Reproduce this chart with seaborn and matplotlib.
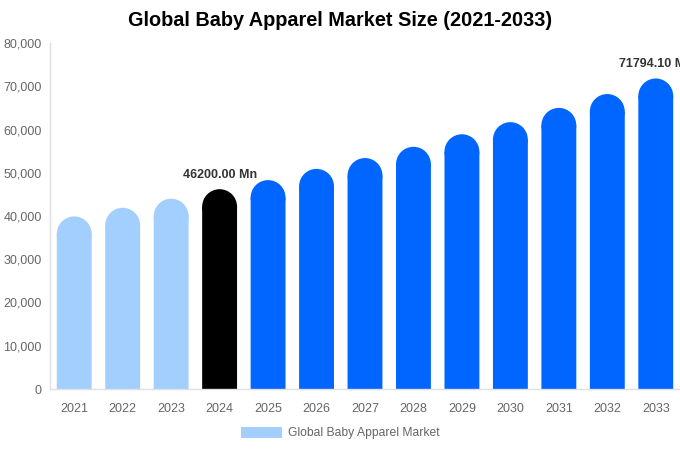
import pandas as pd
import numpy as np
import matplotlib
matplotlib.use("Agg")
import matplotlib.pyplot as plt
import seaborn as sns
from matplotlib.patches import Ellipse, Patch

# values (USD Mn)
years = ["2021", "2022", "2023", "2024", "2025", "2026", "2027",
         "2028", "2029", "2030", "2031", "2032", "2033"]
market_size = [39900, 41900, 44000, 46200, 48300, 50900, 53400,
               56000, 58900, 61700, 65000, 68200, 71794.10]
bar_colors = ["#a3cffe"] * 3 + ["#000000"] + ["#0066ff"] * 9
labelled = {"2024": "46200.00 Mn", "2033": "71794.10 Mn"}

df = pd.DataFrame({"year": years, "size": market_size})

sns.set_theme(style="white")
plt.rcParams['font.family'] = ['Liberation Sans', 'DejaVu Sans']

fig = plt.figure(figsize=(6.8, 4.5), dpi=100)
ax = fig.add_axes([50 / 680, 1 - 389 / 450, 630 / 680, 346 / 450])

sns.barplot(data=df, x="year", y="size", hue="year", palette=bar_colors,
            width=0.72, legend=False, ax=ax, saturation=1, linewidth=0)
ax.set_ylim(0, 80000)
ax.set_xlim(-0.5, len(years) - 0.5)

# round the top of each bar: half-ellipse cap with radius = half bar width (in px)
fig.canvas.draw()
px_per_x = ax.transData.transform((1, 0))[0] - ax.transData.transform((0, 0))[0]
px_per_y = ax.transData.transform((0, 1))[1] - ax.transData.transform((0, 0))[1]
for bar in list(ax.patches):
    x, w, h = bar.get_x(), bar.get_width(), bar.get_height()
    r_px = w * px_per_x / 2
    ry = r_px / px_per_y
    bar.set_height(h - ry)
    bar.set_snap(False)
    ax.add_patch(Ellipse((x + w / 2, h - ry), w, 2 * ry, linewidth=0,
                         facecolor=bar.get_facecolor(), edgecolor="none"))

for i, yr in enumerate(years):
    if yr in labelled:
        ax.text(i, market_size[i] + 2000, labelled[yr], ha="center", va="bottom",
                fontsize=9, fontweight="bold", color="#333333", clip_on=False)

ax.set_xlabel("")
ax.set_ylabel("")
ax.yaxis.set_major_formatter(matplotlib.ticker.FuncFormatter(lambda v, p: f"{int(v):,}"))
ax.set_yticks(range(0, 80001, 10000))
ax.tick_params(axis="both", length=0, labelsize=9, colors="#666666")
ax.tick_params(axis="x", pad=10)
ax.tick_params(axis="y", pad=6)
for side in ["top", "right"]:
    ax.spines[side].set_visible(False)
for side in ["left", "bottom"]:
    ax.spines[side].set_color("#e0e0e0")
    ax.spines[side].set_linewidth(1)

fig.suptitle("Global Baby Apparel Market Size (2021-2033)", x=340 / 680, y=1 - 21 / 450,
             va="center", fontsize=14.3, fontweight="bold", color="#000000")

handles = [Patch(facecolor="#a3cffe", edgecolor="none", label="Global Baby Apparel Market")]
fig.legend(handles=handles, loc="center", bbox_to_anchor=(340 / 680, 1 - 433 / 450),
           frameon=False, fontsize=8.7, labelcolor="#666666", handlelength=3.4,
           handleheight=1.0, handletextpad=0.5)

fig.savefig("out.png", dpi=100)
